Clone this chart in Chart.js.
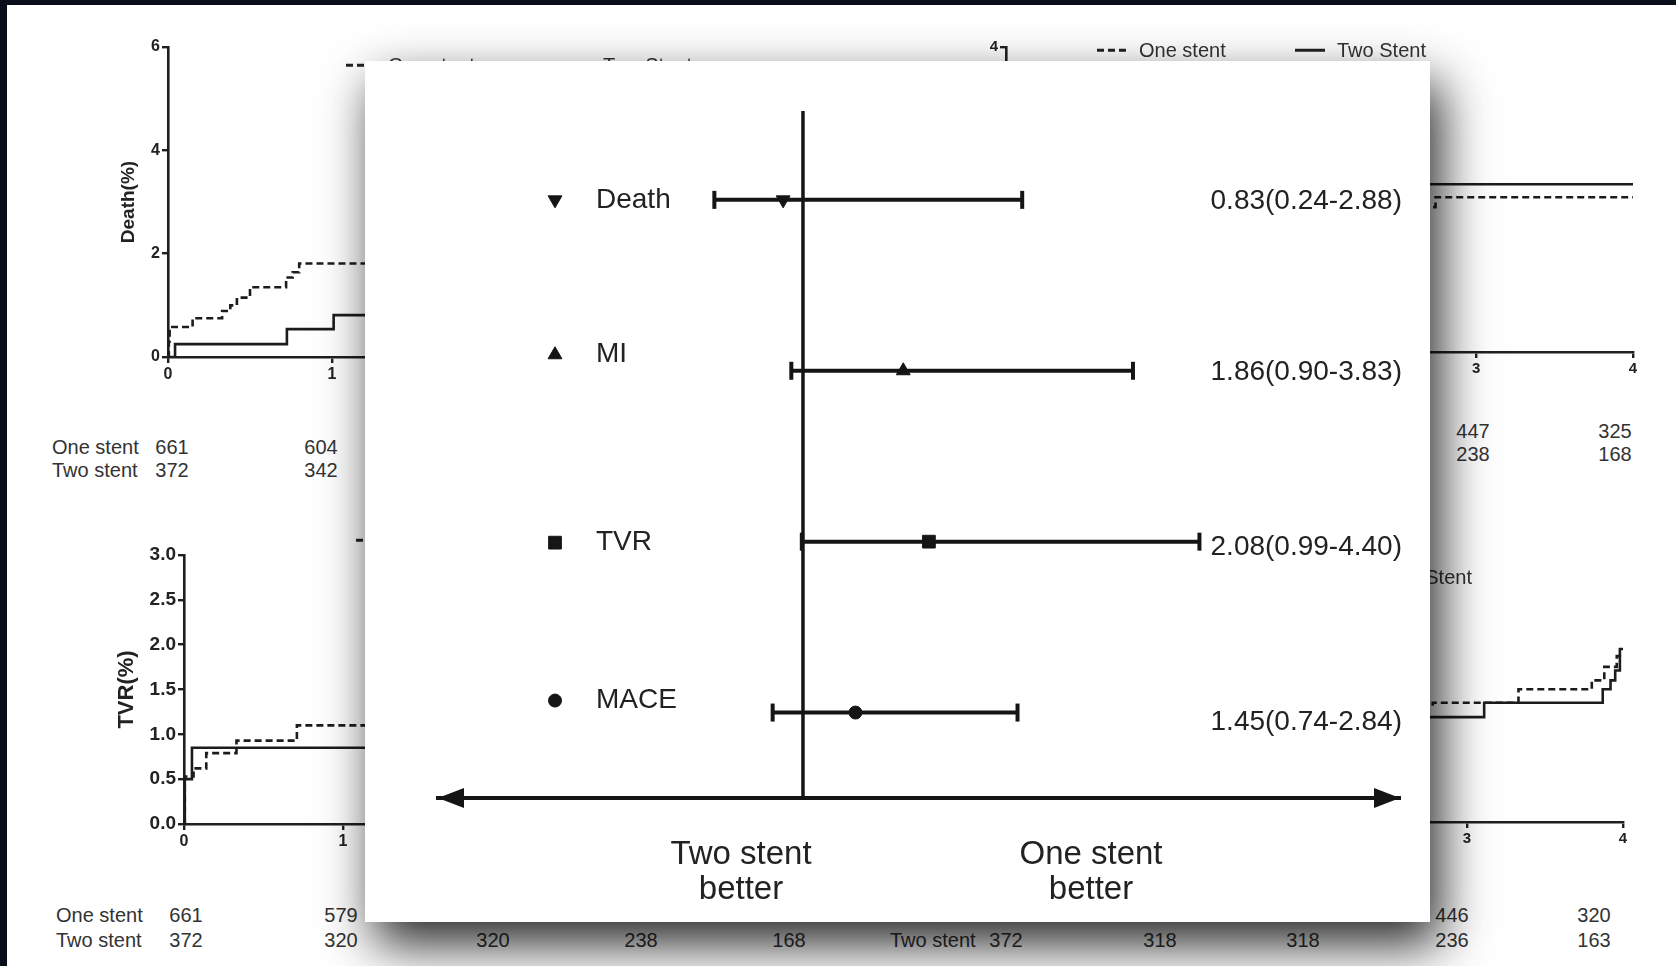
<!DOCTYPE html>
<html>
<head>
<meta charset="utf-8">
<title>One stent vs Two stent</title>
<script src="https://cdn.jsdelivr.net/npm/chart.js@4.4.1/dist/chart.umd.min.js"></script>
<style>
  html, body { margin: 0; padding: 0; width: 1676px; height: 966px; overflow: hidden; background: #0a0e1b; }
  body { position: relative; font-family: "Liberation Sans", Arial, sans-serif; }
  #sheet { position: absolute; left: 7px; top: 5px; width: 1669px; height: 961px; background: #fff; }
  canvas.km { position: absolute; z-index: 1; }
  .txt { position: absolute; z-index: 2; color: #333; font-size: 20px; line-height: 1; white-space: nowrap; }
  .num { transform: translate(-50%, -50%); }
  .lab { transform: translateY(-50%); }
  .sample { position: absolute; z-index: 2; height: 2.5px; background: #222; transform: translateY(-50%); }
  .sample.dash { background: repeating-linear-gradient(90deg, #222 0 7px, transparent 7px 11px); }
  #panel { position: absolute; z-index: 10; left: 365px; top: 61px; width: 1065px; height: 861px;
           background: #fff; box-shadow: 10px 22px 48px rgba(0,0,0,.85); }
  #forest { position: absolute; left: 0; top: 0; }
</style>
</head>
<body>
<div id="sheet"></div>
<div id="panel"><canvas id="forest" width="1065" height="861"></canvas></div>
<script>
"use strict";

const FONT = '"Liberation Sans", Arial, sans-serif';
const INK = '#151515';

// forest plot: hazard ratio (one stent vs two stent) with 95% CI
const outcomes = ['Death', 'MI', 'TVR', 'MACE'];
const hazardRatio = [0.83, 1.86, 2.08, 1.45];
const ciLower = [0.24, 0.90, 0.99, 0.74];
const ciUpper = [2.88, 3.83, 4.40, 2.84];
const favourLeft = ['Two stent', 'better'];
const favourRight = ['One stent', 'better'];
const REF_HR = 1;

// background Kaplan-Meier panels (years, cumulative event %)
const years = [0, 1, 2, 3, 4];
const groupNames = ['One stent', 'Two stent'];
const legendNames = ['One stent', 'Two Stent'];

const deathTimeOne = [0, 0.005, 0.01, 0.15, 0.33, 0.38, 0.42, 0.5, 0.72, 0.76, 0.8, 1.6, 2.4, 3.2, 4];
const deathPctOne  = [0, 0.3, 0.58, 0.75, 0.89, 1.0, 1.15, 1.35, 1.54, 1.64, 1.81, 2.1, 2.4, 2.6, 2.6];
const deathTimeTwo = [0, 0.043, 0.725, 1.01, 1.9, 2.8, 4];
const deathPctTwo  = [0, 0.25, 0.54, 0.81, 1.1, 1.4, 1.4];
const deathRiskOne = [661, 604, 536, 447, 325];
const deathRiskTwo = [372, 342, 318, 238, 168];

const miTimeOne = [0, 0.02, 0.2, 0.7, 1.4, 2.1, 2.74, 4];
const miPctOne  = [0, 0.6, 1.0, 1.3, 1.6, 1.9, 2.03, 2.03];
const miTimeTwo = [0, 0.04, 0.4, 1.0, 1.8, 2.5, 4];
const miPctTwo  = [0, 0.5, 1.1, 1.5, 1.9, 2.2, 2.2];
const miRiskOne = [661, 598, 532, 447, 325];
const miRiskTwo = [372, 340, 318, 238, 168];

const tvrTimeOne = [0, 0.005, 0.06, 0.14, 0.33, 0.71, 1.5, 2.3, 3.1, 4];
const tvrPctOne  = [0, 0.53, 0.62, 0.79, 0.93, 1.1, 1.3, 1.5, 1.7, 1.7];
const tvrTimeTwo = [0, 0.005, 0.05, 1.6, 2.5, 4];
const tvrPctTwo  = [0, 0.5, 0.85, 1.0, 1.2, 1.2];
const tvrRiskOne = [661, 579, 530, 446, 320];
const tvrRiskTwo = [372, 320, 320, 238, 168];

const maceTimeOne = [0, 0.02, 0.3, 0.8, 1.8, 2.6, 2.78, 3.33, 3.8, 3.88, 3.96, 4];
const macePctOne  = [0, 0.45, 0.9, 1.1, 1.2, 1.29, 1.33, 1.48, 1.58, 1.73, 1.85, 1.85];
const maceTimeTwo = [0, 0.02, 0.1, 1.0, 2.0, 3.11, 3.87, 3.92, 3.95, 3.98, 4];
const macePctTwo  = [0, 0.5, 0.85, 0.95, 1.17, 1.33, 1.48, 1.58, 1.69, 1.93, 1.93];
const maceRiskOne = [661, 578, 528, 446, 320];
const maceRiskTwo = [372, 318, 318, 236, 163];

// marker look (style only)
const markerStyle = ['triangle', 'triangle', 'rect', 'circle'];
const markerRotation = [180, 0, 0, 0];
const markerRadius = [8, 8, 9, 6.5];

Chart.defaults.font.family = FONT;
const panel = document.getElementById('panel');

function toXY(xs, ys) {
    return xs.map((x, i) => ({ x: x, y: ys[i] }));
}

function addText(cls, text, x, y) {
    const el = document.createElement('div');
    el.className = 'txt ' + cls;
    el.textContent = text;
    el.style.left = x + 'px';
    el.style.top = y + 'px';
    document.body.appendChild(el);
}

function addSample(dashed, x, y, w) {
    const el = document.createElement('div');
    el.className = 'sample' + (dashed ? ' dash' : '');
    el.style.left = x + 'px';
    el.style.top = y + 'px';
    el.style.width = w + 'px';
    document.body.appendChild(el);
}

// GraphPad-like axis: outward ticks, bold labels, no grid
function axisStyle(tickSize) {
    return {
        grid: { display: true, drawOnChartArea: false, drawTicks: true, tickLength: 6, color: '#1f1f1f', lineWidth: 2.4 },
        border: { display: true, color: '#1f1f1f', width: 2.6 },
        ticks: { color: '#222', font: { size: tickSize, weight: 'bold' }, padding: 2 }
    };
}

function kmChart(spec) {
    const lh = spec.titleSize * 1.2;
    const yw = Math.round(spec.area.l - (spec.titleX - lh / 2));
    const padTop = 14, padRight = 16, xh = 40;
    const cv = document.createElement('canvas');
    cv.className = 'km';
    cv.width = spec.area.r - spec.area.l + yw + padRight;
    cv.height = spec.area.b - spec.area.t + padTop + xh;
    cv.style.left = (spec.area.l - yw) + 'px';
    cv.style.top = (spec.area.t - padTop) + 'px';
    document.body.insertBefore(cv, panel);

    const xAxis = axisStyle(spec.xTickSize);
    const yAxis = axisStyle(spec.yTickSize);
    new Chart(cv.getContext('2d'), {
        type: 'line',
        data: {
            datasets: [
                { label: groupNames[0], data: toXY(spec.tOne, spec.pOne), stepped: 'before', borderColor: '#1c1c1c', borderWidth: 2.6, borderDash: [7, 4], pointRadius: 0, fill: false },
                { label: groupNames[1], data: toXY(spec.tTwo, spec.pTwo), stepped: 'before', borderColor: '#1c1c1c', borderWidth: 2.6, pointRadius: 0, fill: false }
            ]
        },
        options: {
            responsive: false, animation: false,
            layout: { autoPadding: false, padding: { top: padTop, right: padRight, left: 0, bottom: 0 } },
            plugins: { legend: { display: false }, tooltip: { enabled: false } },
            scales: {
                x: Object.assign(xAxis, {
                    type: 'linear', min: years[0], max: years[years.length - 1],
                    afterFit: s => { s.height = xh; },
                    ticks: Object.assign(xAxis.ticks, { stepSize: 1 })
                }),
                y: Object.assign(yAxis, {
                    type: 'linear', min: 0, max: spec.yMax,
                    afterFit: s => { s.width = yw; },
                    ticks: Object.assign(yAxis.ticks, { stepSize: spec.yStep, callback: v => spec.yDigits ? v.toFixed(spec.yDigits) : v }),
                    title: { display: true, text: spec.title, color: '#222', padding: 0, font: { size: spec.titleSize, weight: 'bold' } }
                })
            }
        }
    });

    // numbers at risk
    [spec.riskOne, spec.riskTwo].forEach((row, r) => {
        addText('lab', groupNames[r], spec.risk.labelX, spec.risk.rowY[r]);
        row.forEach((n, i) => addText('num', String(n), spec.risk.countX[i], spec.risk.rowY[r]));
    });

    // legend
    const lg = spec.legend;
    addSample(true, lg.dashX, lg.y, 30);
    addText('lab', legendNames[0], lg.dashX + 42, lg.y);
    addSample(false, lg.solidX, lg.y, 30);
    addText('lab', legendNames[1], lg.solidX + 42, lg.y);
}

kmChart({
    title: 'Death(%)', titleSize: 19, titleX: 128, xTickSize: 16, yTickSize: 16,
    area: { l: 168, t: 47, r: 824, b: 357 }, yMax: 6, yStep: 2, yDigits: 0,
    tOne: deathTimeOne, pOne: deathPctOne, tTwo: deathTimeTwo, pTwo: deathPctTwo,
    riskOne: deathRiskOne, riskTwo: deathRiskTwo,
    risk: { labelX: 52, rowY: [447, 470], countX: [172, 321, 470, 620, 770] },
    legend: { dashX: 346, solidX: 561, y: 65 }
});
kmChart({
    title: 'MI(%)', titleSize: 18, titleX: 965, xTickSize: 15, yTickSize: 15,
    area: { l: 1006, t: 47, r: 1633, b: 352 }, yMax: 4, yStep: 1, yDigits: 0,
    tOne: miTimeOne, pOne: miPctOne, tTwo: miTimeTwo, pTwo: miPctTwo,
    riskOne: miRiskOne, riskTwo: miRiskTwo,
    risk: { labelX: 890, rowY: [431, 454], countX: [1006, 1160, 1318, 1473, 1615] },
    legend: { dashX: 1097, solidX: 1295, y: 50 }
});
kmChart({
    title: 'TVR(%)', titleSize: 22, titleX: 127, xTickSize: 16, yTickSize: 19,
    area: { l: 184, t: 555, r: 820, b: 824 }, yMax: 3, yStep: 0.5, yDigits: 1,
    tOne: tvrTimeOne, pOne: tvrPctOne, tTwo: tvrTimeTwo, pTwo: tvrPctTwo,
    riskOne: tvrRiskOne, riskTwo: tvrRiskTwo,
    risk: { labelX: 56, rowY: [915, 940], countX: [186, 341, 493, 641, 789] },
    legend: { dashX: 356, solidX: 600, y: 540 }
});
kmChart({
    title: 'MACE(%)', titleSize: 18, titleX: 958, xTickSize: 15, yTickSize: 15,
    area: { l: 999, t: 553, r: 1623, b: 822 }, yMax: 3, yStep: 0.5, yDigits: 1,
    tOne: maceTimeOne, pOne: macePctOne, tTwo: maceTimeTwo, pTwo: macePctTwo,
    riskOne: maceRiskOne, riskTwo: maceRiskTwo,
    risk: { labelX: 890, rowY: [915, 940], countX: [1006, 1160, 1303, 1452, 1594] },
    legend: { dashX: 1143, solidX: 1341, y: 577 }
});

// ---------- forest plot on the front panel ----------
const ICON_X = 190, NAME_X = 231, VALUE_RIGHT = 1037;
const labelNudge = [0, -16, 1, -12];
const valueNudge = [1, 2, 6, 10];
const FAVOUR_X = [376, 726], FAVOUR_Y = [794, 829];

const forestDecor = {
    id: 'forestDecor',
    beforeDatasetsDraw(chart) {
        const { ctx, chartArea, scales: { x } } = chart;
        const rx = x.getPixelForValue(REF_HR);
        ctx.save();
        ctx.strokeStyle = INK;
        ctx.lineWidth = 3.5;
        ctx.beginPath();
        ctx.moveTo(rx, chartArea.top);
        ctx.lineTo(rx, chartArea.bottom);
        ctx.stroke();
        ctx.restore();
    },
    afterDraw(chart) {
        const { ctx, chartArea, scales: { y } } = chart;
        const { left, right, bottom } = chartArea;
        ctx.save();
        ctx.fillStyle = INK;
        ctx.strokeStyle = INK;
        // arrow heads on the axis
        ctx.beginPath();
        ctx.moveTo(left, bottom); ctx.lineTo(left + 26, bottom - 10); ctx.lineTo(left + 26, bottom + 10);
        ctx.closePath(); ctx.fill();
        ctx.beginPath();
        ctx.moveTo(right, bottom); ctx.lineTo(right - 26, bottom - 10); ctx.lineTo(right - 26, bottom + 10);
        ctx.closePath(); ctx.fill();

        ctx.textBaseline = 'middle';
        outcomes.forEach((name, i) => {
            const yy = y.getPixelForValue(i);
            Chart.helpers.drawPoint(ctx, { pointStyle: markerStyle[i], rotation: markerRotation[i], radius: markerRadius[i], borderWidth: 1 }, ICON_X, yy + labelNudge[i]);
            ctx.fillStyle = '#222';
            ctx.font = '28px ' + FONT;
            ctx.textAlign = 'left';
            ctx.fillText(name, NAME_X, yy + labelNudge[i]);
            ctx.textAlign = 'right';
            const txt = `${hazardRatio[i].toFixed(2)}(${ciLower[i].toFixed(2)}-${ciUpper[i].toFixed(2)})`;
            ctx.fillText(txt, VALUE_RIGHT, yy + valueNudge[i]);
            ctx.fillStyle = INK;
        });

        ctx.fillStyle = '#222';
        ctx.font = '33px ' + FONT;
        ctx.textAlign = 'center';
        [favourLeft, favourRight].forEach((lines, k) => {
            lines.forEach((ln, j) => ctx.fillText(ln, FAVOUR_X[k], FAVOUR_Y[j]));
        });
        ctx.restore();
    }
};

const ciDatasets = outcomes.map((name, i) => ({
    label: name + ' CI',
    data: [{ x: ciLower[i], y: i }, { x: ciUpper[i], y: i }],
    showLine: true,
    borderColor: INK, borderWidth: 4,
    pointStyle: 'line', pointRotation: 90, pointRadius: 9,
    pointBorderWidth: 4, pointBorderColor: INK
}));

new Chart(document.getElementById('forest').getContext('2d'), {
    type: 'scatter',
    data: {
        datasets: ciDatasets.concat([{
            label: 'HR',
            data: outcomes.map((n, i) => ({ x: hazardRatio[i], y: i })),
            pointStyle: markerStyle, rotation: markerRotation, pointRadius: markerRadius,
            backgroundColor: INK, borderColor: INK, borderWidth: 1
        }])
    },
    options: {
        responsive: false, animation: false,
        layout: { autoPadding: false, padding: { left: 73, right: 30, top: 50, bottom: 0 } },
        plugins: { legend: { display: false }, tooltip: { enabled: false } },
        scales: {
            x: {
                type: 'linear', min: -2.13, max: 6.12,
                afterFit: s => { s.height = 124; },
                ticks: { display: false },
                grid: { display: false },
                border: { display: true, color: INK, width: 4 }
            },
            y: { type: 'linear', min: -0.52, max: 3.5, reverse: true, display: false }
        }
    },
    plugins: [forestDecor]
});
</script>
</body>
</html>
